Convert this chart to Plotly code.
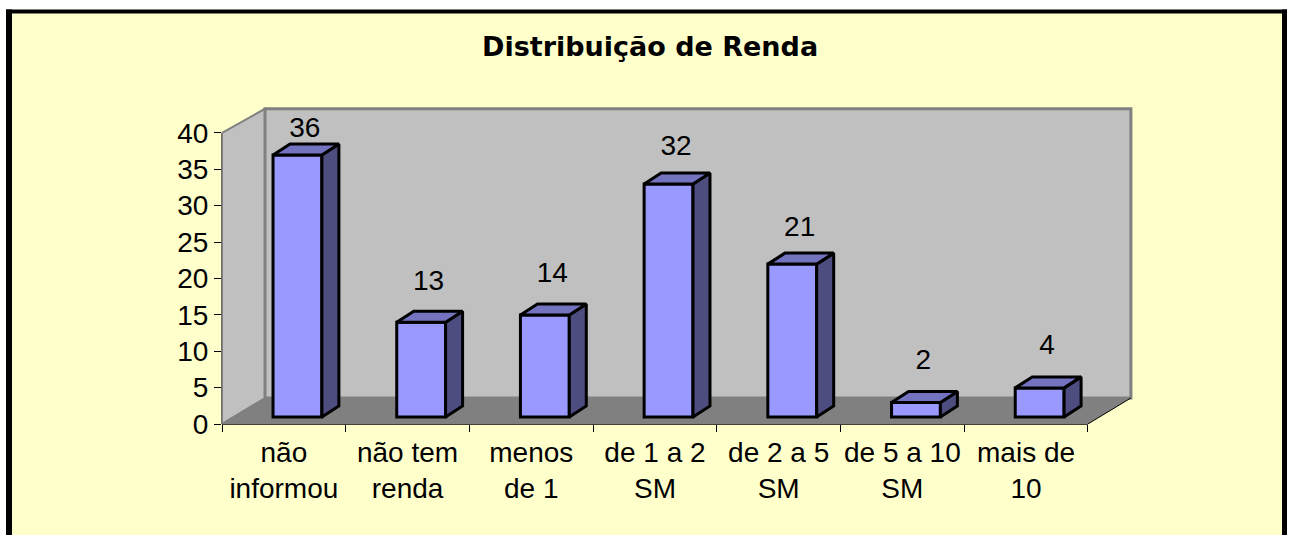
import plotly.graph_objects as go

categories = ["não<br>informou", "não tem<br>renda", "menos<br>de 1", "de 1 a 2<br>SM", "de 2 a 5<br>SM", "de 5 a 10<br>SM", "mais de<br>10"]
values = [36, 13, 14, 32, 21, 2, 4]
y_ticks = [0, 5, 10, 15, 20, 25, 30, 35, 40]
title_text = "Distribuição de Renda"

W, H = 1293, 535
L, R, T, B = 222, 1131, 108, 424
PAD = 4
PX_X = 123.7
PX_Y = 7.28
x_lo = -0.5
x_hi = 6.5
depth_x = 43 / PX_X
depth_y = 26 / PX_Y
y_max = (B - T + PAD) / PX_Y
y_top = 40
wall_top = y_top + 24 / PX_Y
bar_w = 0.395
bar_dx = 0.11
bar_base = 7 / PX_Y
side_x = 17 / PX_X
side_y = 11 / PX_Y
label_gaps = [4.4, 6.4, 6.5, 5.9, 5.8, 6.5, 6.6]

FONT = "Liberation Sans"
TXT = 28
ink = "black"
front = "#9999FF"
side = "#4D4D80"
top = "#7373BF"

xs = [i + bar_dx for i in range(len(values))]

fig = go.Figure()
fig.add_trace(go.Bar(x=xs, y=values, base=bar_base, width=bar_w, marker=dict(color=front, line=dict(color="black", width=3)), showlegend=False, hoverinfo="skip"))

for x, v in zip(xs, values):
    xl, xr = x - bar_w / 2, x + bar_w / 2
    yt = v + bar_base
    fig.add_trace(go.Scatter(x=[xr, xr + side_x, xr + side_x, xr, xr], y=[bar_base, bar_base + side_y, yt + side_y, yt, bar_base],
                             fill="toself", fillcolor=side, mode="lines", line=dict(color="black", width=3), showlegend=False, hoverinfo="skip"))
    fig.add_trace(go.Scatter(x=[xl, xl + side_x, xr + side_x, xr, xl], y=[yt, yt + side_y, yt + side_y, yt, yt],
                             fill="toself", fillcolor=top, mode="lines", line=dict(color="black", width=3), showlegend=False, hoverinfo="skip"))

fig.add_trace(go.Scatter(x=[x + 0.06 for x in xs], y=[v + g for v, g in zip(values, label_gaps)], text=[str(v) for v in values],
                         mode="text", textfont=dict(family=FONT, size=TXT, color=ink), textposition="middle center", showlegend=False, hoverinfo="skip", cliponaxis=False))
# keeps the tick-mark axis alive
fig.add_trace(go.Scatter(x=[x_lo], y=[0], xaxis="x2", mode="none", showlegend=False, hoverinfo="skip"))

plot_w = R + PAD - L
plot_h = B - T + PAD
def px(v):
    return (v - L) / plot_w
def py(v):
    return (B - v) / plot_h

shapes = [
    dict(type="rect", xref="paper", yref="paper", x0=px(9), x1=px(1285), y0=py(11), y1=py(560), fillcolor="#FFFFCC", line=dict(width=0), layer="below"),
    dict(type="rect", xref="paper", yref="paper", x0=px(6), x1=px(12), y0=py(9.5), y1=py(560), fillcolor="black", line=dict(width=0), layer="below"),
    dict(type="rect", xref="paper", yref="paper", x0=px(1282), x1=px(1287), y0=py(9.5), y1=py(560), fillcolor="black", line=dict(width=0), layer="below"),
    dict(type="rect", xref="paper", yref="paper", x0=px(6), x1=px(1287), y0=py(9.5), y1=py(13.5), fillcolor="black", line=dict(width=0), layer="below"),
    # side wall
    dict(type="path", xref="x", yref="y", path=f"M {x_lo} 0 L {x_lo} {y_top} L {x_lo + depth_x} {wall_top} L {x_lo + depth_x} {depth_y} Z", fillcolor="#C0C0C0", line=dict(color="#808080", width=2), layer="below"),
    # back wall
    dict(type="rect", xref="x", yref="y", x0=x_lo + depth_x, x1=x_hi + depth_x, y0=depth_y, y1=wall_top, fillcolor="#C0C0C0", line=dict(color="#808080", width=3), layer="below"),
    # floor
    dict(type="path", xref="x", yref="y", path=f"M {x_lo} 0 L {x_lo + depth_x} {depth_y} L {x_hi + depth_x} {depth_y} L {x_hi} 0 Z", fillcolor="#808080", line=dict(width=0), layer="below"),
    dict(type="line", xref="x", yref="y", x0=x_hi, x1=x_hi + depth_x, y0=0, y1=depth_y, line=dict(color="black", width=1), layer="below"),
    dict(type="line", xref="x", yref="paper", x0=x_lo, x1=x_hi, y0=0, y1=0, line=dict(color="black", width=1.5), layer="below"),
    dict(type="line", xref="paper", yref="y", x0=0, x1=0, y0=0, y1=y_top, line=dict(color="#707070", width=2), layer="below"),
]

x_range = [x_lo, x_hi + (R + PAD - L) / PX_X - 7]

fig.update_layout(
    width=W, height=H, autosize=False,
    margin=dict(l=L, r=W - R - PAD, t=T - PAD, b=H - B, pad=0),
    paper_bgcolor="white", plot_bgcolor="rgba(0,0,0,0)",
    shapes=shapes, showlegend=False,
    font=dict(family=FONT, size=TXT, color=ink),
    xaxis=dict(range=x_range, tickmode="array", tickvals=list(range(len(categories))), ticktext=categories,
               ticks="", ticklabelstandoff=9, showgrid=False, zeroline=False, showline=False, tickfont=dict(family=FONT, size=TXT, color=ink)),
    xaxis2=dict(range=x_range, overlaying="x", anchor="y", side="bottom", tickmode="array",
                tickvals=[x_lo + i for i in range(len(categories) + 1)], ticks="outside", ticklen=7, tickcolor="black", tickwidth=1,
                showticklabels=False, showgrid=False, zeroline=False, showline=False),
    yaxis=dict(range=[0, y_max], tickmode="array", tickvals=y_ticks, ticks="outside", ticklen=7, tickcolor="black", tickwidth=1,
               showgrid=False, zeroline=False, showline=False, tickfont=dict(family=FONT, size=TXT, color=ink)),
    annotations=[dict(text=f"<b>{title_text}</b>", xref="paper", yref="paper", x=px(650), y=py(47), xanchor="center", yanchor="middle", showarrow=False,
                      font=dict(family="DejaVu Sans", size=27, color=ink))],
)

fig.write_html("out.html", config=dict(displayModeBar=False), post_script="document.body.style.margin='0';document.body.style.overflow='hidden';")
